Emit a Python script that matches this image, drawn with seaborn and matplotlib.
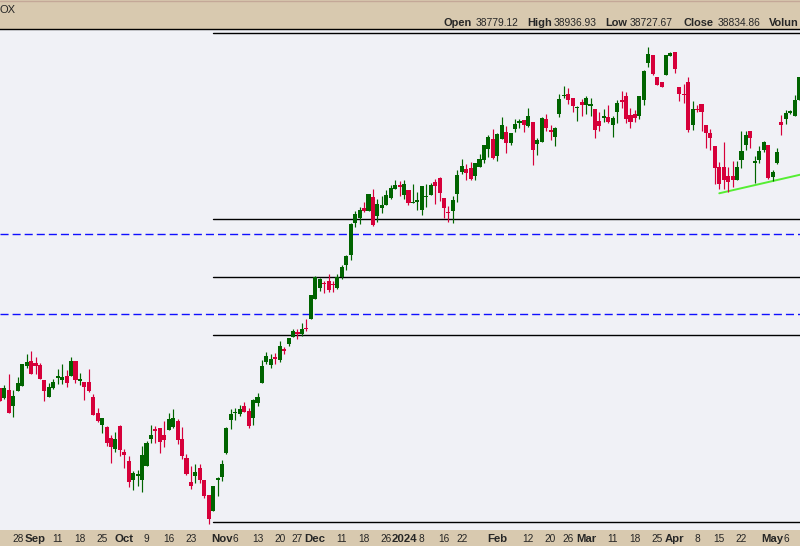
import numpy as np
import pandas as pd
import seaborn as sns
import matplotlib.pyplot as plt
from matplotlib.lines import Line2D

sns.set_style("white")
plt.rcParams['font.family'] = ['Liberation Sans', 'DejaVu Sans']

# trading days shown (US holidays removed)
holidays = ["2023-09-04", "2023-11-23", "2023-12-25", "2024-01-01",
            "2024-01-15", "2024-02-19", "2024-03-29"]
days = pd.bdate_range("2023-08-22", "2024-05-09", freq="C", holidays=holidays)

opens = [34386, 34231, 34355, 34107, 34340, 34417, 34727, 34805, 34774, 34743, 34510, 34247, 34386, 34541, 34510, 34572,
         34572, 34805, 34495, 34479, 34479, 34247, 33999, 33813, 33782, 33611, 33441, 33797, 33394, 33255, 32960, 33022,
         32960, 33177, 33596, 33751, 33766, 33658, 33735, 33782, 33875, 33596, 33301, 32929, 33022, 33146, 32960, 32728,
         32480, 32960, 33007, 33379, 33890, 33999, 33983, 34107, 34030, 33921, 34154, 34464, 34789, 34743, 34867, 34820,
         34991, 35068, 35177, 35254, 35223, 35316, 35456, 35766, 35936, 36014, 36045, 35998, 35936, 36107, 36293, 36448,
         36944, 37021, 37176, 37130, 37347, 37052, 37176, 37223, 37331, 37471, 37533, 37378, 37455, 37254, 37269, 37145,
         37347, 37378, 37579, 37641, 37331, 37114, 37130, 37393, 37734, 37781, 37796, 37672, 37812, 37920, 38091, 38246,
         37982, 38246, 38354, 38184, 38401, 38494, 38540, 38447, 38509, 38168, 38199, 38556, 38385, 38277, 38633, 38912,
         38943, 38881, 38726, 38819, 38773, 38757, 38711, 38525, 38571, 38587, 38463, 38664, 38850, 38912, 38618, 38633,
         38602, 38850, 39424, 39548, 39207, 39129, 39238, 39532, 39594, 39052, 38943, 39129, 38463, 38711, 38788, 38463,
         38339, 38137, 37812, 37812, 37672, 37672, 37610, 37920, 38153, 38370, 37874, 37920, 38075, 38153, 37657, 37874,
         38509, 38556, 38649, 38602, 38850]
highs = [34386, 34433, 34603, 34355, 34557, 34758, 34913, 34960, 34867, 34774, 34510, 34464, 34526, 34681, 34758, 34665,
         34867, 34805, 34619, 34479, 34681, 34293, 34076, 33921, 33797, 33658, 33704, 33813, 33441, 33332, 33100, 33115,
         33487, 33565, 33813, 33797, 33766, 33875, 33999, 34061, 33906, 33782, 33363, 33177, 33208, 33208, 32960, 32728,
         32867, 33007, 33270, 33782, 34061, 34076, 34123, 34169, 34076, 34216, 34309, 34820, 34944, 34913, 34929, 35115,
         35022, 35161, 35301, 35301, 35394, 35456, 35828, 36122, 36091, 36045, 36153, 36045, 36153, 36293, 36448, 36944,
         37130, 37192, 37269, 37393, 37471, 37316, 37362, 37455, 37533, 37610, 37595, 37610, 37455, 37548, 37424, 37517,
         37548, 37564, 37626, 37657, 37331, 37207, 37362, 37765, 37936, 37858, 37889, 37874, 38013, 38153, 38308, 38401,
         38339, 38587, 38447, 38339, 38556, 38556, 38540, 38726, 38509, 38261, 38587, 38633, 38463, 38432, 38943, 39067,
         39036, 38881, 38757, 38866, 38912, 38881, 38711, 38664, 38711, 38773, 38602, 38850, 38990, 38974, 38726, 38695,
         38912, 39315, 39672, 39548, 39207, 39129, 39548, 39594, 39594, 39052, 39098, 39207, 38835, 38773, 38788, 38463,
         38401, 38137, 37889, 38199, 37812, 37905, 37905, 38370, 38370, 38370, 37982, 38137, 38215, 38153, 37765, 38106,
         38618, 38695, 38695, 38928, 39207]
lows = [34185, 34216, 33999, 33937, 34340, 34417, 34696, 34603, 34603, 34526, 34185, 34247, 34371, 34448, 34448, 34402,
        34572, 34464, 34433, 34200, 34324, 33968, 33859, 33689, 33487, 33224, 33394, 33332, 33146, 32852, 32805, 32867,
        32774, 33177, 33534, 33534, 33379, 33472, 33735, 33766, 33518, 33286, 33038, 32821, 32914, 32914, 32681, 32278,
        32480, 32712, 32945, 33363, 33751, 33890, 33952, 34014, 33766, 33813, 34107, 34464, 34758, 34696, 34758, 34789,
        34913, 35037, 35177, 35146, 35192, 35270, 35456, 35766, 35890, 35859, 35874, 35874, 35921, 36076, 36215, 36370,
        36882, 36928, 37114, 37130, 36897, 36959, 37099, 37223, 37316, 37471, 37362, 37316, 37223, 37254, 37145, 37068,
        37192, 37378, 37238, 37285, 37021, 36959, 36944, 37269, 37703, 37610, 37610, 37610, 37812, 37874, 37967, 37936,
        37905, 38246, 38029, 38153, 38354, 38416, 38354, 38432, 37843, 37998, 38199, 38370, 38230, 38137, 38587, 38881,
        38788, 38664, 38525, 38602, 38633, 38602, 38261, 38370, 38509, 38494, 38277, 38494, 38726, 38494, 38416, 38509,
        38556, 38773, 39362, 39238, 39083, 39052, 39238, 39532, 39269, 38835, 38804, 38354, 38385, 38664, 38370, 38106,
        38075, 37548, 37471, 37471, 37424, 37502, 37610, 37796, 38075, 38106, 37564, 37874, 38044, 37626, 37595, 37858,
        38308, 38478, 38633, 38602, 38850]
closes = [34185, 34386, 33999, 34262, 34464, 34758, 34789, 34603, 34727, 34526, 34340, 34402, 34479, 34572, 34557, 34464,
          34805, 34510, 34526, 34402, 34340, 33968, 33875, 33921, 33534, 33472, 33596, 33425, 33348, 32929, 33069, 33053,
          33348, 33534, 33658, 33720, 33549, 33580, 33906, 33921, 33580, 33332, 33053, 32867, 33084, 32960, 32712, 32356,
          32867, 32991, 33208, 33766, 33983, 34014, 34061, 34014, 33797, 34200, 34247, 34727, 34882, 34836, 34836, 35037,
          34960, 35161, 35270, 35223, 35301, 35301, 35828, 36107, 36076, 35998, 35905, 35983, 36107, 36262, 36432, 36928,
          37083, 37145, 37130, 37393, 36913, 37238, 37223, 37378, 37486, 37533, 37502, 37548, 37254, 37269, 37300, 37517,
          37362, 37533, 37517, 37409, 37176, 37099, 37300, 37688, 37827, 37719, 37626, 37874, 37936, 38153, 38277, 37951,
          38323, 38463, 38184, 38339, 38478, 38525, 38463, 38602, 38075, 38230, 38571, 38416, 38354, 38416, 38866, 38928,
          38850, 38757, 38742, 38773, 38881, 38788, 38385, 38447, 38602, 38509, 38571, 38804, 38819, 38556, 38509, 38571,
          38912, 39300, 39563, 39253, 39083, 39052, 39548, 39579, 39331, 38943, 38928, 38385, 38711, 38695, 38664, 38339,
          38261, 37796, 37548, 37610, 37579, 37610, 37812, 38060, 38308, 38261, 37905, 38060, 38199, 37641, 37734, 38044,
          38463, 38649, 38680, 38850, 39207]

# fibonacci retracement (low Oct 27 -> high), drawn from Oct 30 on
fib_low, fib_high = 32309, 39896
fib_levels = [0.0, 0.382, 0.5, 0.618, 1.0]
fib_start = "2023-10-30"
# blue dashed support lines
support = [36773, 35533]
# green rising trendline, from Apr 15 to past the right edge
trend_start = "2024-04-15"
trend_vals = [37404, 37704]

tick_dates = ["2023-08-28", "2023-09-01", "2023-09-11", "2023-09-18", "2023-09-25", "2023-10-02", "2023-10-09",
              "2023-10-16", "2023-10-23", "2023-11-01", "2023-11-06", "2023-11-13", "2023-11-20", "2023-11-27",
              "2023-12-01", "2023-12-11", "2023-12-18", "2023-12-26", "2024-01-02", "2024-01-08", "2024-01-16",
              "2024-01-22", "2024-02-01", "2024-02-12", "2024-02-20", "2024-02-26", "2024-03-01", "2024-03-11",
              "2024-03-18", "2024-03-25", "2024-04-01", "2024-04-08", "2024-04-15", "2024-04-22", "2024-05-01",
              "2024-05-06"]
tick_labels = ["28", "Sep", "11", "18", "25", "Oct", "9", "16", "23", "Nov", "6", "13", "20", "27", "Dec", "11", "18",
               "26", "2024", "8", "16", "22", "Feb", "12", "20", "26", "Mar", "11", "18", "25", "Apr", "8", "15", "22",
               "May", "6"]

df = pd.DataFrame({"date": days, "open": opens, "high": highs, "low": lows, "close": closes})
df["pos"] = np.arange(len(df))
up = df["close"] >= df["open"]
GREEN, RED = "#006400", "#d6003a"

W, H = 800, 546
fig = plt.figure(figsize=(W / 100, H / 100), dpi=100, facecolor="#d8c9af")
top_px, bot_px = 28.5, 530
ax = fig.add_axes([0, (H - bot_px) / H, 1, (bot_px - top_px) / H], facecolor="#f0f1f6")

colors = np.where(up, GREEN, RED)
ax.vlines(df["pos"], df["low"], df["high"], colors=colors, lw=0.85, zorder=3)
body_h = np.maximum((df["close"] - df["open"]).abs(), 14)
ax.bar(df["pos"], body_h, bottom=np.minimum(df["open"], df["close"]), width=0.92,
       color=colors, linewidth=0, zorder=4)

# fib lines
x_start = df.index[df["date"] == pd.Timestamp(fib_start)][0]
for lv in fib_levels:
    yv = fib_high - lv * (fib_high - fib_low)
    ax.plot([x_start, len(df) + 5], [yv, yv], color="black", lw=1.0, zorder=2)

for s in support:
    ax.axhline(s, color="#1010ff", lw=1.0, ls=(0, (5.8, 2.9)), zorder=2)

t0 = df.index[df["date"] == pd.Timestamp(trend_start)][0]
trend_df = pd.DataFrame({"x": [t0, len(df)], "y": trend_vals})
sns.lineplot(data=trend_df, x="x", y="y", color="#55ee33", lw=1.4, ax=ax, zorder=2)

# axes limits: 4.45 px per trading day
ax.set_xlim(0.40, 180.18)
ax.set_ylim(32185, 39958)
ax.set_xlabel("")
ax.set_ylabel("")
ax.set_yticks([])

tick_pos = [df.index[df["date"] == pd.Timestamp(d)][0] for d in tick_dates]
ax.set_xticks(tick_pos)
ax.set_xticklabels(tick_labels)
ax.set_xticks(df["pos"], minor=True)
ax.tick_params(axis="x", which="both", direction="out", length=1.6, width=1.0, color="#222222", pad=1.5)
for lab in ax.get_xticklabels():
    if not lab.get_text().isdigit() or lab.get_text() == "2024":
        lab.set_fontweight("bold")
        lab.set_fontsize(8.2)
    else:
        lab.set_fontsize(7.3)

for side in ["left", "right", "bottom"]:
    ax.spines[side].set_visible(False)
ax.spines["top"].set_color("black")
ax.spines["top"].set_linewidth(1.0)

# header text
fig.add_artist(Line2D([0, 1], [1 - 0.6 / H, 1 - 0.6 / H], color="#c4a898", lw=1.0))
fig.text(0 / W, 1 - 10 / H, "OX", fontsize=8, va="center", ha="left")
header = [("Open", True, 443), ("38779.12", False, 476), ("High", True, 527), ("38936.93", False, 553.5),
          ("Low", True, 605), ("38727.67", False, 630), ("Close", True, 683), ("38834.86", False, 718),
          ("Volun", True, 769)]
for txt, bold, xp in header:
    fig.text(xp / W, 1 - 22.5 / H, txt, fontsize=7.9 if bold else 7.4,
             fontweight="bold" if bold else "normal", va="center", ha="left")

fig.savefig("out.png", dpi=100, facecolor=fig.get_facecolor())
